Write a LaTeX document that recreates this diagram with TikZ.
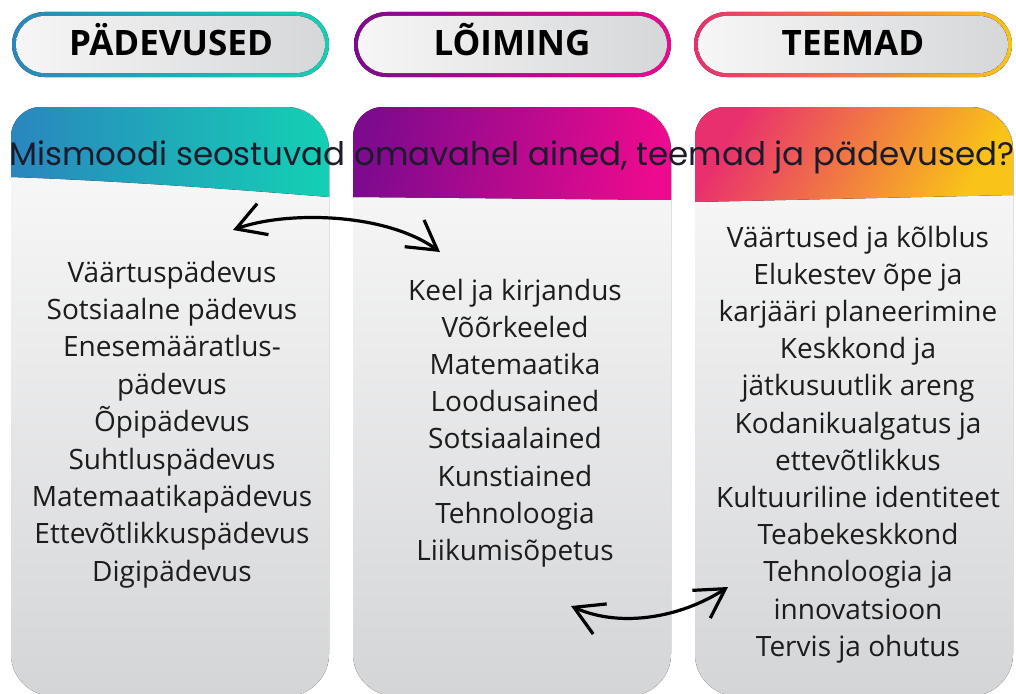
\documentclass[tikz,border=0pt]{standalone}
\usepackage{fontspec}
\setmainfont{Open Sans}
\newfontfamily\titlefont{Poppins}
\usetikzlibrary{arrows.meta}
\definecolor{tealA}{HTML}{2A86BE}
\definecolor{tealB}{HTML}{14D0B4}
\definecolor{purpA}{HTML}{7E0A8E}
\definecolor{purpB}{HTML}{EC0A8E}
\definecolor{oranA}{HTML}{E9306E}
\definecolor{oranB}{HTML}{F9C417}
\definecolor{cardtop}{HTML}{FBFBFB}
\definecolor{cardbot}{HTML}{D4D5D7}
\definecolor{pillL}{HTML}{F6F6F6}
\definecolor{pillR}{HTML}{D6D7D9}
\definecolor{titleink}{HTML}{1B1B2C}
\definecolor{bodyink}{HTML}{1C1C1C}
\tikzset{
  cardbody/.style={top color=cardtop, bottom color=cardbot, draw=none},
  pillin/.style={left color=pillL, right color=pillR, draw=none},
  pilltext/.style={font=\fontsize{35}{40}\selectfont\bfseries, text=black, inner sep=0pt, anchor=base},
  itemtext/.style={font=\fontsize{28}{32}\selectfont, text=bodyink, inner sep=0pt, anchor=base},
  linkarrow/.style={line width=3.2pt, black, line cap=round, {Straight Barb[length=19pt,width=22pt,scale=1.5]}-{Straight Barb[length=19pt,width=22pt,scale=1.5]}},
}
\begin{document}
\begin{tikzpicture}[x=1pt,y=-1pt]
\useasboundingbox (0,0) rectangle (1016,693);
\fill[white] (0,0) rectangle (1016,693);
% card bodies
\begin{scope}
\clip (0,0) rectangle (1016,693);
\fill[cardbody, rounded corners=42pt] (11,107) rectangle (329,696);
\fill[cardbody, rounded corners=42pt] (353,107) rectangle (671,696);
\fill[cardbody, rounded corners=42pt] (695,107) rectangle (1013,696);
\end{scope}
% headers
\fill[left color=tealA, right color=tealB] (11,177) {[rounded corners=30pt] -- (11,107)} {[rounded corners=44pt] -- (329,107)} -- (329,197) .. controls (220,188) and (100,180) .. cycle;
\fill[left color=purpA, right color=purpB, shading angle=80] (353,197) {[rounded corners=30pt] -- (353,107)} {[rounded corners=44pt] -- (671,107)} -- (671,200) -- cycle;
\fill[left color=oranA, right color=oranB, shading angle=60] (695,202) {[rounded corners=30pt] -- (695,107)} {[rounded corners=44pt] -- (1013,107)} -- (1013,195) -- cycle;
% pills
\fill[left color=tealA, right color=tealB, rounded corners=32.5pt] (12,12) rectangle (329,77);
\fill[pillin, rounded corners=28.5pt] (16,16) rectangle (325,73);
\fill[left color=purpA, right color=purpB, rounded corners=32.5pt] (354,12) rectangle (671,77);
\fill[pillin, rounded corners=28.5pt] (358,16) rectangle (667,73);
\fill[left color=oranA, right color=oranB, rounded corners=32.5pt] (694,12) rectangle (1012,77);
\fill[pillin, rounded corners=28.5pt] (698,16) rectangle (1008,73);
\node[pilltext] (p1) at (171,56) {PÄDEVUSED};
\node[pilltext] (p2) at (512,56) {LÕIMING};
\node[pilltext] (p3) at (853,56) {TEEMAD};
% title
\node[font=\titlefont\fontsize{32.5}{36}\selectfont, text=titleink, inner sep=0pt, anchor=base] (title) at (512,165) {Mismoodi seostuvad omavahel ained, teemad ja pädevused?};
% column 1
\foreach \t [count=\i from 0] in {Väärtuspädevus,Sotsiaalne pädevus,Enesemääratlus-,pädevus,Õpipädevus,Suhtluspädevus,Matemaatikapädevus,Ettevõtlikkuspädevus,Digipädevus}
  \node[itemtext] (a\i) at (172,282+37.4*\i) {\t};
% column 2
\foreach \t [count=\i from 0] in {Keel ja kirjandus,Võõrkeeled,Matemaatika,Loodusained,Sotsiaalained,Kunstiained,Tehnoloogia,Liikumisõpetus}
  \node[itemtext] (b\i) at (515,300+37.2*\i) {\t};
% column 3
\foreach \t [count=\i from 0] in {Väärtused ja kõlblus,Elukestev õpe ja,karjääri planeerimine,Keskkond ja,jätkusuutlik areng,Kodanikualgatus ja,ettevõtlikkus,Kultuuriline identiteet,Teabekeskkond,Tehnoloogia ja,innovatsioon,Tervis ja ohutus}
  \node[itemtext] (c\i) at (858,247+37.2*\i) {\t};
% arrows
\coordinate (l1) at (233,230);
\coordinate (r1) at (440,252);
\coordinate (l2) at (571,606);
\coordinate (r2) at (728,587);
\draw[linkarrow] (l1) .. controls (285,211) and (385,212) .. (r1);
\draw[linkarrow] (l2) .. controls (620,628) and (680,618) .. (r2);
\end{tikzpicture}
\end{document}
